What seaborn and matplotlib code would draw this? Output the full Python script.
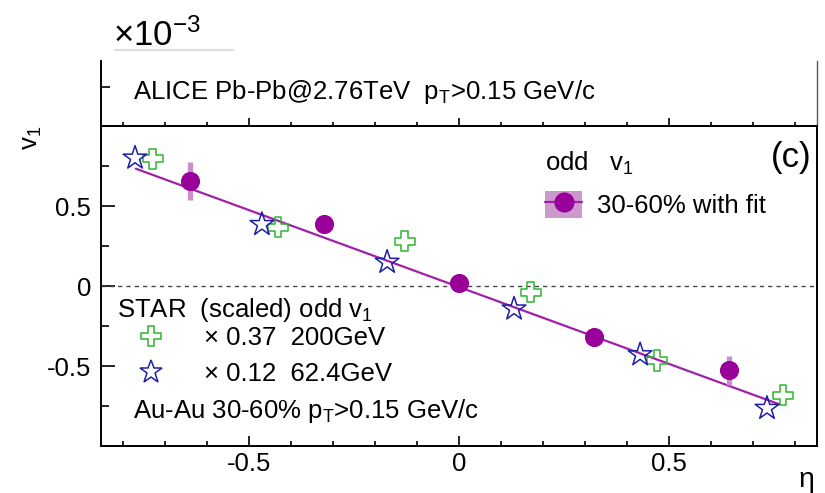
import numpy as np
import pandas as pd
import matplotlib
matplotlib.use("Agg")
import matplotlib.pyplot as plt
import seaborn as sns
from matplotlib.patches import Patch
from matplotlib.lines import Line2D
from matplotlib.legend_handler import HandlerTuple
from matplotlib.ticker import MultipleLocator

# ---------------- data (v1 in units of 1e-3) ----------------
alice_eta = [-0.64, -0.321, 0.0, 0.321, 0.643]
alice_v1 = [0.658, 0.385, 0.02, -0.317, -0.528]
alice_err = [0.12, 0.04, 0.03, 0.05, 0.09]

fit_eta = [-0.769, 0.762]
fit_v1 = [0.733, -0.739]

star200_eta = [-0.729, -0.431, -0.129, 0.171, 0.471, 0.771]
star200_v1 = [0.795, 0.367, 0.28, -0.04, -0.466, -0.683]

star62_eta = [-0.771, -0.469, -0.171, 0.131, 0.431, 0.733]
star62_v1 = [0.80, 0.385, 0.149, -0.143, -0.429, -0.764]

x_ticks = [-0.5, 0, 0.5]
x_ticklabels = ["-0.5", "0", "0.5"]
y_ticks = [-0.5, 0, 0.5]
y_ticklabels = ["-0.5", "0", "0.5"]

# ---------------- style ----------------
sns.set_style("ticks")
plt.rcParams["font.family"] = ["Liberation Sans", "DejaVu Sans"]
plt.rcParams["mathtext.fontset"] = "custom"
plt.rcParams["mathtext.rm"] = "Liberation Sans"
plt.rcParams["mathtext.it"] = "Liberation Sans:italic"
plt.rcParams["mathtext.bf"] = "Liberation Sans:bold"
for k in ["text.color", "axes.labelcolor", "xtick.color", "ytick.color",
          "axes.edgecolor"]:
    plt.rcParams[k] = "black"

FS = 18.5
PURPLE = "#990099"
FITC = "#a020a8"
ERRC = "#cc8fcc"
GREEN = "#2fb52f"
BLUE = "#1f1fa6"

fig = plt.figure(figsize=(8.25, 4.93), dpi=100)

# geometry in pixels
W, H = 825.0, 493.0
L, R = 101, 817
T_main, B_main = 126, 446
T_top = 61

ax = fig.add_axes([L / W, 1 - B_main / H, (R - L) / W, (B_main - T_main) / H])
ax_top = fig.add_axes([L / W, 1 - T_main / H, (R - L) / W, (T_main - T_top) / H])

xlim = (-0.852, 0.852)

# ---------------- main panel ----------------
ax.axhline(0, color="#444444", lw=1.0, ls=(0, (3, 3)), zorder=1)

fit_df = pd.DataFrame({"eta": fit_eta, "v1": fit_v1})
sns.lineplot(data=fit_df, x="eta", y="v1", color=FITC, lw=1.6, ax=ax, zorder=3,
             legend=False)

ax.errorbar(alice_eta, alice_v1, yerr=alice_err, fmt="none", ecolor=ERRC,
            elinewidth=3.8, capsize=0, zorder=4)

df200 = pd.DataFrame({"eta": star200_eta, "v1": star200_v1})
df62 = pd.DataFrame({"eta": star62_eta, "v1": star62_v1})
dfal = pd.DataFrame({"eta": alice_eta, "v1": alice_v1})

sns.scatterplot(data=df200, x="eta", y="v1", marker="P", s=210, ax=ax,
                zorder=5, legend=False)
c200 = ax.collections[-1]
c200.set_facecolor("none")
c200.set_edgecolor(GREEN)
c200.set_linewidth(1.1)

sns.scatterplot(data=df62, x="eta", y="v1", marker="*", s=320, ax=ax,
                zorder=5, legend=False)
c62 = ax.collections[-1]
c62.set_facecolor("none")
c62.set_edgecolor(BLUE)
c62.set_linewidth(1.1)

sns.scatterplot(data=dfal, x="eta", y="v1", marker="o", s=190, ax=ax,
                color=PURPLE, edgecolor=PURPLE, linewidth=0, zorder=6,
                legend=False)

ax.set_xlim(*xlim)
ax.set_ylim(-1.0, 1.0)
ax.set_xticks(x_ticks)
ax.set_xticklabels(x_ticklabels)
ax.set_yticks(y_ticks)
ax.set_yticklabels(y_ticklabels)
ax.xaxis.set_minor_locator(MultipleLocator(0.1))
ax.yaxis.set_minor_locator(MultipleLocator(0.25))
ax.tick_params(axis="x", which="major", direction="in", length=7.2, width=1.2,
               labelsize=FS, pad=4, top=False, bottom=True)
ax.tick_params(axis="x", which="minor", direction="in", length=3.6, width=1.2,
               top=False, bottom=True)
ax.tick_params(axis="y", which="major", direction="in", length=10, width=1.2,
               labelsize=FS, pad=7, left=True, right=False)
ax.tick_params(axis="y", which="minor", direction="in", length=5.8, width=1.2,
               left=True, right=False)
for s in ["left", "bottom", "right", "top"]:
    ax.spines[s].set_visible(True)
    ax.spines[s].set_linewidth(1.4)
    ax.spines[s].set_color("black")

ax.set_ylabel(r"$\mathrm{v}_{1}$", fontsize=FS, loc="top")
ax.yaxis.set_label_coords(-0.080, 1.0)
ax.set_xlabel("η", fontsize=FS + 2, loc="right")
ax.xaxis.set_label_coords(0.997, -0.065)

# panel label
ax.text(0.993, 0.9, "(c)", transform=ax.transAxes, ha="right", va="center",
        fontsize=25)

# ALICE legend
h_alice = (Patch(facecolor="#cc99cc", edgecolor="none"),
           Line2D([], [], color=FITC, lw=1.6, marker="o", markersize=13.5,
                  markerfacecolor=PURPLE, markeredgecolor=PURPLE))
leg1 = ax.legend([h_alice], ["30-60% with fit"],
                 handler_map={tuple: HandlerTuple(ndivide=1, pad=0)},
                 title=r"odd   $\mathrm{v}_{1}$", title_fontsize=FS,
                 fontsize=FS, frameon=False, loc="upper left",
                 bbox_to_anchor=(0.620, 0.925), borderpad=0, borderaxespad=0,
                 handlelength=1.46, handleheight=1.23, handletextpad=0.55,
                 labelspacing=0.3, alignment="left")
leg1._legend_box.sep = 10
ax.add_artist(leg1)

# STAR legend
h200 = Line2D([], [], ls="none", marker="P", markersize=14.4,
              markerfacecolor="none", markeredgecolor=GREEN, markeredgewidth=1.1)
h62 = Line2D([], [], ls="none", marker="*", markersize=17,
             markerfacecolor="none", markeredgecolor=BLUE, markeredgewidth=1.1)
leg2 = ax.legend([h200, h62], ["× 0.37  200GeV", "× 0.12  62.4GeV"],
                 title=r"STAR  (scaled) odd $\mathrm{v}_{1}$", title_fontsize=FS,
                 fontsize=FS, frameon=False, loc="upper left",
                 bbox_to_anchor=(0.022, 0.47), borderpad=0, borderaxespad=0,
                 handlelength=2.7, handletextpad=0.7, labelspacing=0.47,
                 alignment="left")
leg2._legend_box.sep = 2

ax.text(0.045, 0.109, r"Au-Au 30-60% $\mathrm{p}_{\mathrm{T}}$>0.15 GeV/c",
        transform=ax.transAxes, ha="left", va="center", fontsize=FS)

# ---------------- top panel ----------------
ax_top.set_xlim(*xlim)
ax_top.set_ylim(0, 1)
ax_top.set_xticks(x_ticks)
ax_top.xaxis.set_minor_locator(MultipleLocator(0.1))
ax_top.set_yticks([0.6])
ax_top.tick_params(axis="x", which="major", direction="in", length=5.8,
                   width=1.2, labelbottom=False, bottom=True, top=False)
ax_top.tick_params(axis="x", which="minor", direction="in", length=2.9,
                   width=1.2, bottom=True, top=False)
ax_top.tick_params(axis="y", direction="in", length=6.5, width=1.2,
                   labelleft=False, left=True, right=False)
ax_top.spines["top"].set_visible(False)
ax_top.spines["left"].set_linewidth(1.4)
ax_top.spines["bottom"].set_linewidth(1.4)
ax_top.spines["right"].set_linewidth(1.0)
ax_top.spines["right"].set_color("#555555")
ax_top.patch.set_alpha(0)
ax_top.text(0.045, 0.52, r"ALICE Pb-Pb@2.76TeV  $\mathrm{p}_{\mathrm{T}}$>0.15 GeV/c",
            transform=ax_top.transAxes, ha="left", va="center", fontsize=FS)

# exponent label
fig.text(113 / W, 1 - 46 / H, r"$\times\mathrm{10}^{\mathrm{-3}}$",
         ha="left", va="baseline", fontsize=25)
fig.add_artist(Line2D([115 / W, 233 / W], [1 - 50 / H, 1 - 50 / H],
                      transform=fig.transFigure, color="#dddddd", lw=1.5))

fig.savefig("out.png", dpi=100)
